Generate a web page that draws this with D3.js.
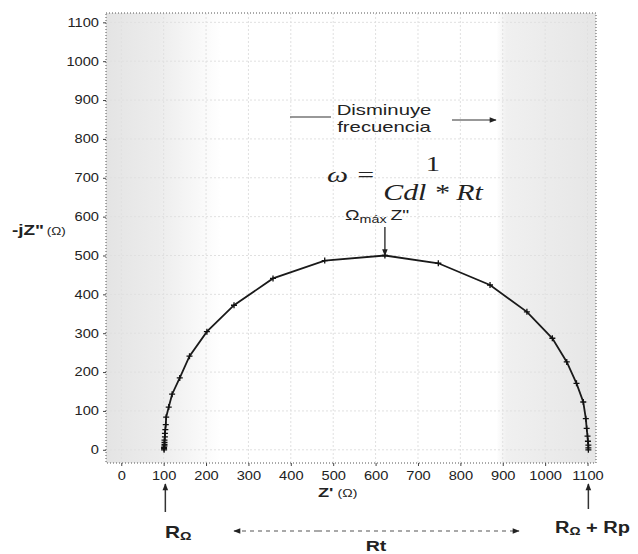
<!DOCTYPE html>
<html lang="es">
<head>
<meta charset="UTF-8">
<title>Nyquist</title>
<style>
  body { margin: 0; background: #fff; }
  svg { display: block; font-family: Arial, "Liberation Sans", sans-serif; }
  .tick text { font-size: 12px; fill: #222; }
  .tick line { stroke: #444; }
</style>
</head>
<body>
<svg id="chart" width="638" height="554"></svg>
<script src="https://d3js.org/d3.v7.min.js"></script>
<script>
// Z' (ohm) and -Z'' (ohm)
const zReal = [101, 101, 101, 102, 102, 102, 102, 103, 103, 104, 105, 106, 112, 120, 138, 161, 202, 266, 358, 480,
               622, 748, 870, 957, 1017, 1051, 1074, 1090, 1096, 1098, 1100, 1101, 1102, 1102, 1102];
const zImag = [0, 3, 6, 10, 14, 19, 25, 33, 42, 52, 65, 84, 110, 143, 185, 241, 304, 372, 441, 487,
               500, 480, 424, 355, 287, 226, 171, 123, 80, 55, 35, 22, 12, 5, 0];
const xTicks = [0, 100, 200, 300, 400, 500, 600, 700, 800, 900, 1000, 1100];
const yTicks = [0, 100, 200, 300, 400, 500, 600, 700, 800, 900, 1000, 1100];

const points = zReal.map((v, i) => ({ x: v, y: zImag[i] }));

const svg = d3.select("#chart");
const pLeft = 106, pRight = 596, pTop = 13, pBottom = 463;
const stretch = 1.22; // the source picture is widened horizontally

const x = d3.scaleLinear().domain([-36, 1120]).range([pLeft, pRight]);
const y = d3.scaleLinear().domain([-34, 1124]).range([pBottom, pTop]);

// text placed at (px, py), widened by sx
function label(px, py, sx) {
  return svg.append("text")
    .attr("transform", `translate(${px},${py}) scale(${sx},1)`)
    .attr("fill", "#222");
}

// background shading
const defs = svg.append("defs");
const gl = defs.append("linearGradient").attr("id", "shadeL");
gl.append("stop").attr("offset", "0%").attr("stop-color", "#e4e4e4");
gl.append("stop").attr("offset", "45%").attr("stop-color", "#ececec");
gl.append("stop").attr("offset", "100%").attr("stop-color", "#ffffff");
const gr = defs.append("linearGradient").attr("id", "shadeR");
gr.append("stop").attr("offset", "0%").attr("stop-color", "#ffffff");
gr.append("stop").attr("offset", "10%").attr("stop-color", "#f0f0f0");
gr.append("stop").attr("offset", "100%").attr("stop-color", "#e6e6e6");

svg.append("rect").attr("x", pLeft).attr("y", pTop)
  .attr("width", x(235) - pLeft).attr("height", pBottom - pTop).attr("fill", "url(#shadeL)");
svg.append("rect").attr("x", x(885)).attr("y", pTop)
  .attr("width", pRight - x(885)).attr("height", pBottom - pTop).attr("fill", "url(#shadeR)");

defs.append("marker").attr("id", "head")
  .attr("viewBox", "0 0 10 10").attr("refX", 9).attr("refY", 5)
  .attr("markerWidth", 8).attr("markerHeight", 7).attr("orient", "auto")
  .attr("markerUnits", "userSpaceOnUse")
  .append("path").attr("d", "M0,1L10,5L0,9Z").attr("fill", "#222");

// grid
svg.append("g").selectAll("line").data(xTicks).join("line")
  .attr("x1", d => x(d)).attr("x2", d => x(d)).attr("y1", pTop).attr("y2", pBottom)
  .attr("stroke", "#e0e0e0").attr("stroke-dasharray", "2,2");
svg.append("g").selectAll("line").data(yTicks).join("line")
  .attr("x1", pLeft).attr("x2", pRight).attr("y1", d => y(d)).attr("y2", d => y(d))
  .attr("stroke", "#e0e0e0").attr("stroke-dasharray", "2,2");

// dotted frame
svg.append("rect").attr("x", pLeft).attr("y", pTop)
  .attr("width", pRight - pLeft).attr("height", pBottom - pTop)
  .attr("fill", "none").attr("stroke", "#555").attr("stroke-dasharray", "1,2");

// axes
const xAxis = svg.append("g").attr("transform", `translate(0,${pBottom})`)
  .call(d3.axisBottom(x).tickValues(xTicks).tickFormat(d3.format("d")).tickSize(3).tickPadding(5));
xAxis.select(".domain").remove();
xAxis.selectAll(".tick text").attr("transform", `scale(${stretch},1)`);
const yAxis = svg.append("g").attr("transform", `translate(${pLeft},0)`)
  .call(d3.axisLeft(y).tickValues(yTicks).tickFormat(d3.format("d")).tickSize(3).tickPadding(4));
yAxis.select(".domain").remove();
yAxis.selectAll(".tick text").attr("x", -7 / stretch).attr("transform", `scale(${stretch},1)`);

// axis titles
const yt = label(12, 235, 1.35);
yt.append("tspan").attr("font-size", 14).attr("font-weight", "bold").text("-jZ\"");
yt.append("tspan").attr("font-size", 10).attr("dx", 2).text("(\u03A9)");

const xt = label(318, 497, 1.4);
xt.append("tspan").attr("font-size", 13).attr("font-weight", "bold").text("Z'");
xt.append("tspan").attr("font-size", 10).attr("dx", 3).text("(\u03A9)");

// curve
const line = d3.line().x(d => x(d.x)).y(d => y(d.y));
svg.append("path").datum(points).attr("d", line)
  .attr("fill", "none").attr("stroke", "#1a1a1a").attr("stroke-width", 1.8);
svg.append("g").selectAll("path").data(points).join("path")
  .attr("transform", d => `translate(${x(d.x)},${y(d.y)})`)
  .attr("d", "M-3,0H3M0,-3V3")
  .attr("stroke", "#111").attr("stroke-width", 1.3);

// frequency note
label(384, 115, 1.45).attr("text-anchor", "middle").attr("font-size", 14).text("Disminuye");
label(384, 132, 1.45).attr("text-anchor", "middle").attr("font-size", 14).text("frecuencia");
svg.append("line").attr("x1", 290).attr("x2", 331).attr("y1", 117).attr("y2", 117)
  .attr("stroke", "#333").attr("stroke-width", 1.2);
svg.append("line").attr("x1", 452).attr("x2", 496).attr("y1", 120).attr("y2", 120)
  .attr("stroke", "#333").attr("stroke-width", 1.2).attr("marker-end", "url(#head)");

// formula
const serif = "'Liberation Serif', 'DejaVu Serif', serif";
label(327, 182, 1.35).attr("font-family", serif).attr("font-style", "italic")
  .attr("font-size", 22).text("\u03C9 =");
label(433, 171, 1.3).attr("text-anchor", "middle").attr("font-family", serif)
  .attr("font-size", 22).text("1");
label(433, 200, 1.3).attr("text-anchor", "middle").attr("font-family", serif)
  .attr("font-style", "italic").attr("font-size", 23).text("Cdl * Rt");

const om = label(345, 220, 1.3).attr("font-size", 15);
om.append("tspan").text("\u03A9");
om.append("tspan").attr("font-size", 11).attr("dy", 3).text("máx");
om.append("tspan").attr("dy", -3).attr("dx", 3).text("Z\"");
svg.append("line").attr("x1", x(622)).attr("x2", x(622)).attr("y1", 227).attr("y2", y(500))
  .attr("stroke", "#222").attr("stroke-width", 1.3).attr("marker-end", "url(#head)");

// resistances
svg.append("line").attr("x1", x(104)).attr("x2", x(104)).attr("y1", 512).attr("y2", 484)
  .attr("stroke", "#333").attr("stroke-width", 1.5).attr("marker-end", "url(#head)");
svg.append("line").attr("x1", x(1102)).attr("x2", x(1102)).attr("y1", 509).attr("y2", 484)
  .attr("stroke", "#333").attr("stroke-width", 1.5).attr("marker-end", "url(#head)");

const r1 = label(165, 538, 1.3).attr("font-size", 16).attr("font-weight", "bold");
r1.append("tspan").text("R");
r1.append("tspan").attr("font-size", 11).attr("dy", 2).text("\u03A9");
const r2 = label(555, 533, 1.25).attr("font-size", 16).attr("font-weight", "bold");
r2.append("tspan").text("R");
r2.append("tspan").attr("font-size", 11).attr("dy", 2).text("\u03A9");
r2.append("tspan").attr("dy", -2).text(" + Rp");

svg.append("line").attr("x1", 318).attr("x2", 234).attr("y1", 531).attr("y2", 531)
  .attr("stroke", "#555").attr("stroke-width", 1.2).attr("stroke-dasharray", "4,4").attr("marker-end", "url(#head)");
svg.append("line").attr("x1", 318).attr("x2", 519).attr("y1", 531).attr("y2", 531)
  .attr("stroke", "#555").attr("stroke-width", 1.2).attr("stroke-dasharray", "4,4").attr("marker-end", "url(#head)");
label(376, 551, 1.4).attr("text-anchor", "middle").attr("font-size", 14).attr("font-weight", "bold").text("Rt");
</script>
</body>
</html>
